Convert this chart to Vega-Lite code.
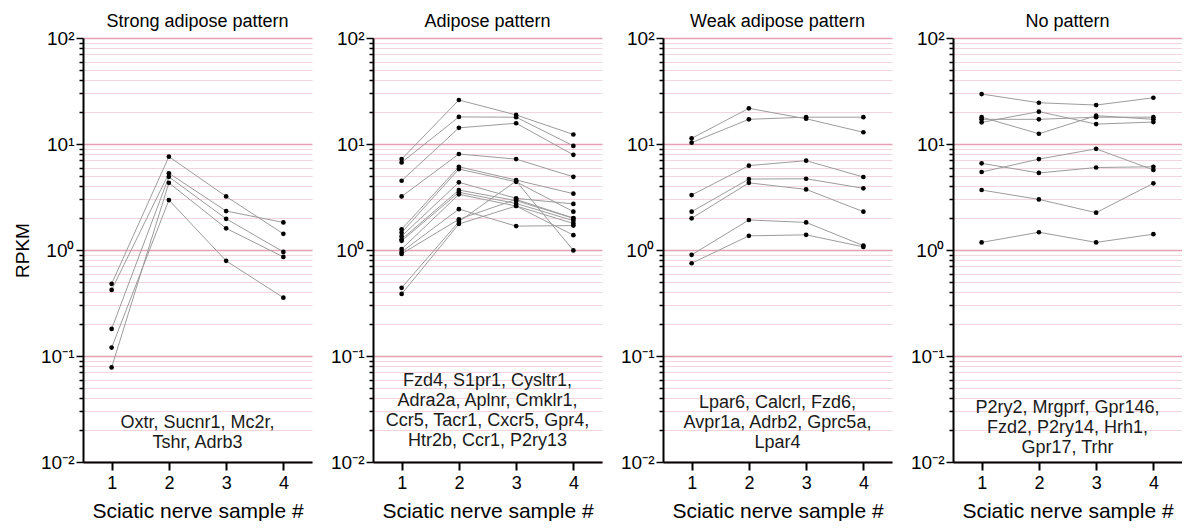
{
  "$schema": "https://vega.github.io/schema/vega-lite/v6.json",
  "background": "white",
  "padding": {"left": 13, "top": 13, "right": 0, "bottom": 0},
  "bounds": "flush",
  "spacing": 61,
  "config": {
    "font": "Liberation Sans",
    "view": {"stroke": null},
    "title": {"fontSize": 18, "fontWeight": "normal", "color": "black", "offset": -2, "font": "Liberation Sans"},
    "axis": {"labelFont": "Liberation Sans", "titleFont": "Liberation Sans", "labelColor": "black", "titleColor": "black"},
    "axisX": {"grid": false, "domainColor": "black", "domainWidth": 2, "tickColor": "black", "tickWidth": 2, "tickSize": 8, "labelFontSize": 18, "labelPadding": 4, "titleFontSize": 21, "titleFontWeight": "normal", "titlePadding": 8},
    "axisY": {"grid": true, "tickWidth": 1.5, "tickColor": "black", "domainColor": "black", "domainWidth": 2,
      "labelExpr": "datum.value == 100 ? '10²' : datum.value == 10 ? '10¹' : datum.value == 1 ? '10⁰' : datum.value == 0.1 ? '10⁻¹' : datum.value == 0.01 ? '10⁻²' : ''",
      "labelFontSize": 19, "labelPadding": 2, "labelOverlap": false,
      "titleFontSize": 19, "titleFontWeight": "normal", "titlePadding": 8}
  },
  "datasets": {
    "points": [
      {"panel": "strong", "series": "s1", "sample": 1, "rpkm": 0.48},
      {"panel": "strong", "series": "s1", "sample": 2, "rpkm": 7.6},
      {"panel": "strong", "series": "s1", "sample": 3, "rpkm": 3.2},
      {"panel": "strong", "series": "s1", "sample": 4, "rpkm": 1.42},
      {"panel": "strong", "series": "s2", "sample": 1, "rpkm": 0.42},
      {"panel": "strong", "series": "s2", "sample": 2, "rpkm": 5.3},
      {"panel": "strong", "series": "s2", "sample": 3, "rpkm": 2.33},
      {"panel": "strong", "series": "s2", "sample": 4, "rpkm": 1.82},
      {"panel": "strong", "series": "s3", "sample": 1, "rpkm": 0.18},
      {"panel": "strong", "series": "s3", "sample": 2, "rpkm": 4.9},
      {"panel": "strong", "series": "s3", "sample": 3, "rpkm": 1.97},
      {"panel": "strong", "series": "s3", "sample": 4, "rpkm": 0.96},
      {"panel": "strong", "series": "s4", "sample": 1, "rpkm": 0.078},
      {"panel": "strong", "series": "s4", "sample": 2, "rpkm": 4.3},
      {"panel": "strong", "series": "s4", "sample": 3, "rpkm": 1.6},
      {"panel": "strong", "series": "s4", "sample": 4, "rpkm": 0.86},
      {"panel": "strong", "series": "s5", "sample": 1, "rpkm": 0.12},
      {"panel": "strong", "series": "s5", "sample": 2, "rpkm": 2.96},
      {"panel": "strong", "series": "s5", "sample": 3, "rpkm": 0.79},
      {"panel": "strong", "series": "s5", "sample": 4, "rpkm": 0.355},

      {"panel": "adipose", "series": "a1", "sample": 1, "rpkm": 7.2},
      {"panel": "adipose", "series": "a1", "sample": 2, "rpkm": 26},
      {"panel": "adipose", "series": "a1", "sample": 3, "rpkm": 18.8},
      {"panel": "adipose", "series": "a1", "sample": 4, "rpkm": 12.3},
      {"panel": "adipose", "series": "a2", "sample": 1, "rpkm": 6.7},
      {"panel": "adipose", "series": "a2", "sample": 2, "rpkm": 18},
      {"panel": "adipose", "series": "a2", "sample": 3, "rpkm": 17.9},
      {"panel": "adipose", "series": "a2", "sample": 4, "rpkm": 9.6},
      {"panel": "adipose", "series": "a3", "sample": 1, "rpkm": 4.5},
      {"panel": "adipose", "series": "a3", "sample": 2, "rpkm": 14.2},
      {"panel": "adipose", "series": "a3", "sample": 3, "rpkm": 15.7},
      {"panel": "adipose", "series": "a3", "sample": 4, "rpkm": 7.9},
      {"panel": "adipose", "series": "a4", "sample": 1, "rpkm": 3.2},
      {"panel": "adipose", "series": "a4", "sample": 2, "rpkm": 8.05},
      {"panel": "adipose", "series": "a4", "sample": 3, "rpkm": 7.2},
      {"panel": "adipose", "series": "a4", "sample": 4, "rpkm": 4.9},
      {"panel": "adipose", "series": "a5", "sample": 1, "rpkm": 1.57},
      {"panel": "adipose", "series": "a5", "sample": 2, "rpkm": 6.1},
      {"panel": "adipose", "series": "a5", "sample": 3, "rpkm": 4.57},
      {"panel": "adipose", "series": "a5", "sample": 4, "rpkm": 3.4},
      {"panel": "adipose", "series": "a6", "sample": 1, "rpkm": 1.46},
      {"panel": "adipose", "series": "a6", "sample": 2, "rpkm": 5.8},
      {"panel": "adipose", "series": "a6", "sample": 3, "rpkm": 4.4},
      {"panel": "adipose", "series": "a6", "sample": 4, "rpkm": 2.3},
      {"panel": "adipose", "series": "a7", "sample": 1, "rpkm": 1.35},
      {"panel": "adipose", "series": "a7", "sample": 2, "rpkm": 4.35},
      {"panel": "adipose", "series": "a7", "sample": 3, "rpkm": 3.07},
      {"panel": "adipose", "series": "a7", "sample": 4, "rpkm": 2.72},
      {"panel": "adipose", "series": "a8", "sample": 1, "rpkm": 1.26},
      {"panel": "adipose", "series": "a8", "sample": 2, "rpkm": 3.68},
      {"panel": "adipose", "series": "a8", "sample": 3, "rpkm": 2.92},
      {"panel": "adipose", "series": "a8", "sample": 4, "rpkm": 1.99},
      {"panel": "adipose", "series": "a9", "sample": 1, "rpkm": 1.22},
      {"panel": "adipose", "series": "a9", "sample": 2, "rpkm": 3.5},
      {"panel": "adipose", "series": "a9", "sample": 3, "rpkm": 2.75},
      {"panel": "adipose", "series": "a9", "sample": 4, "rpkm": 1.89},
      {"panel": "adipose", "series": "a10", "sample": 1, "rpkm": 1.02},
      {"panel": "adipose", "series": "a10", "sample": 2, "rpkm": 3.35},
      {"panel": "adipose", "series": "a10", "sample": 3, "rpkm": 2.6},
      {"panel": "adipose", "series": "a10", "sample": 4, "rpkm": 1.78},
      {"panel": "adipose", "series": "a11", "sample": 1, "rpkm": 0.96},
      {"panel": "adipose", "series": "a11", "sample": 2, "rpkm": 2.43},
      {"panel": "adipose", "series": "a11", "sample": 3, "rpkm": 1.68},
      {"panel": "adipose", "series": "a11", "sample": 4, "rpkm": 1.7},
      {"panel": "adipose", "series": "a12", "sample": 1, "rpkm": 0.44},
      {"panel": "adipose", "series": "a12", "sample": 2, "rpkm": 1.85},
      {"panel": "adipose", "series": "a12", "sample": 3, "rpkm": 4.47},
      {"panel": "adipose", "series": "a12", "sample": 4, "rpkm": 0.99},
      {"panel": "adipose", "series": "a13", "sample": 1, "rpkm": 0.385},
      {"panel": "adipose", "series": "a13", "sample": 2, "rpkm": 1.76},
      {"panel": "adipose", "series": "a13", "sample": 3, "rpkm": 2.6},
      {"panel": "adipose", "series": "a13", "sample": 4, "rpkm": 1.38},
      {"panel": "adipose", "series": "a14", "sample": 1, "rpkm": 0.92},
      {"panel": "adipose", "series": "a14", "sample": 2, "rpkm": 1.95},
      {"panel": "adipose", "series": "a14", "sample": 3, "rpkm": 3.0},
      {"panel": "adipose", "series": "a14", "sample": 4, "rpkm": 2.0},

      {"panel": "weak", "series": "w1", "sample": 1, "rpkm": 11.3},
      {"panel": "weak", "series": "w1", "sample": 2, "rpkm": 21.7},
      {"panel": "weak", "series": "w1", "sample": 3, "rpkm": 17.3},
      {"panel": "weak", "series": "w1", "sample": 4, "rpkm": 12.9},
      {"panel": "weak", "series": "w2", "sample": 1, "rpkm": 10.3},
      {"panel": "weak", "series": "w2", "sample": 2, "rpkm": 17.1},
      {"panel": "weak", "series": "w2", "sample": 3, "rpkm": 17.9},
      {"panel": "weak", "series": "w2", "sample": 4, "rpkm": 17.9},
      {"panel": "weak", "series": "w3", "sample": 1, "rpkm": 3.3},
      {"panel": "weak", "series": "w3", "sample": 2, "rpkm": 6.25},
      {"panel": "weak", "series": "w3", "sample": 3, "rpkm": 6.96},
      {"panel": "weak", "series": "w3", "sample": 4, "rpkm": 4.88},
      {"panel": "weak", "series": "w4", "sample": 1, "rpkm": 2.3},
      {"panel": "weak", "series": "w4", "sample": 2, "rpkm": 4.67},
      {"panel": "weak", "series": "w4", "sample": 3, "rpkm": 4.7},
      {"panel": "weak", "series": "w4", "sample": 4, "rpkm": 3.82},
      {"panel": "weak", "series": "w5", "sample": 1, "rpkm": 1.99},
      {"panel": "weak", "series": "w5", "sample": 2, "rpkm": 4.3},
      {"panel": "weak", "series": "w5", "sample": 3, "rpkm": 3.73},
      {"panel": "weak", "series": "w5", "sample": 4, "rpkm": 2.3},
      {"panel": "weak", "series": "w6", "sample": 1, "rpkm": 0.9},
      {"panel": "weak", "series": "w6", "sample": 2, "rpkm": 1.92},
      {"panel": "weak", "series": "w6", "sample": 3, "rpkm": 1.82},
      {"panel": "weak", "series": "w6", "sample": 4, "rpkm": 1.1},
      {"panel": "weak", "series": "w7", "sample": 1, "rpkm": 0.75},
      {"panel": "weak", "series": "w7", "sample": 2, "rpkm": 1.36},
      {"panel": "weak", "series": "w7", "sample": 3, "rpkm": 1.39},
      {"panel": "weak", "series": "w7", "sample": 4, "rpkm": 1.07},

      {"panel": "none", "series": "n1", "sample": 1, "rpkm": 29.6},
      {"panel": "none", "series": "n1", "sample": 2, "rpkm": 24.5},
      {"panel": "none", "series": "n1", "sample": 3, "rpkm": 23.3},
      {"panel": "none", "series": "n1", "sample": 4, "rpkm": 27.3},
      {"panel": "none", "series": "n2", "sample": 1, "rpkm": 17.9},
      {"panel": "none", "series": "n2", "sample": 2, "rpkm": 12.5},
      {"panel": "none", "series": "n2", "sample": 3, "rpkm": 18.5},
      {"panel": "none", "series": "n2", "sample": 4, "rpkm": 17.1},
      {"panel": "none", "series": "n3", "sample": 1, "rpkm": 16.0},
      {"panel": "none", "series": "n3", "sample": 2, "rpkm": 20.2},
      {"panel": "none", "series": "n3", "sample": 3, "rpkm": 15.4},
      {"panel": "none", "series": "n3", "sample": 4, "rpkm": 16.1},
      {"panel": "none", "series": "n4", "sample": 1, "rpkm": 17.1},
      {"panel": "none", "series": "n4", "sample": 2, "rpkm": 17.1},
      {"panel": "none", "series": "n4", "sample": 3, "rpkm": 17.9},
      {"panel": "none", "series": "n4", "sample": 4, "rpkm": 17.9},
      {"panel": "none", "series": "n5", "sample": 1, "rpkm": 6.57},
      {"panel": "none", "series": "n5", "sample": 2, "rpkm": 5.33},
      {"panel": "none", "series": "n5", "sample": 3, "rpkm": 6.0},
      {"panel": "none", "series": "n5", "sample": 4, "rpkm": 6.1},
      {"panel": "none", "series": "n6", "sample": 1, "rpkm": 5.44},
      {"panel": "none", "series": "n6", "sample": 2, "rpkm": 7.2},
      {"panel": "none", "series": "n6", "sample": 3, "rpkm": 9.0},
      {"panel": "none", "series": "n6", "sample": 4, "rpkm": 5.7},
      {"panel": "none", "series": "n7", "sample": 1, "rpkm": 3.68},
      {"panel": "none", "series": "n7", "sample": 2, "rpkm": 3.0},
      {"panel": "none", "series": "n7", "sample": 3, "rpkm": 2.25},
      {"panel": "none", "series": "n7", "sample": 4, "rpkm": 4.26},
      {"panel": "none", "series": "n8", "sample": 1, "rpkm": 1.18},
      {"panel": "none", "series": "n8", "sample": 2, "rpkm": 1.47},
      {"panel": "none", "series": "n8", "sample": 3, "rpkm": 1.18},
      {"panel": "none", "series": "n8", "sample": 4, "rpkm": 1.41}
    ],
    "notes": [
      {"panel": "strong", "text": "Oxtr, Sucnr1, Mc2r,\nTshr, Adrb3"},
      {"panel": "adipose", "text": "Fzd4, S1pr1, Cysltr1,\nAdra2a, Aplnr, Cmklr1,\nCcr5, Tacr1, Cxcr5, Gpr4,\nHtr2b, Ccr1, P2ry13"},
      {"panel": "weak", "text": "Lpar6, Calcrl, Fzd6,\nAvpr1a, Adrb2, Gprc5a,\nLpar4"},
      {"panel": "none", "text": "P2ry2, Mrgprf, Gpr146,\nFzd2, P2ry14, Hrh1,\nGpr17, Trhr"}
    ]
  },
  "hconcat": [
    {
      "width": 229, "height": 424,
      "title": {"text": "Strong adipose pattern"},
      "layer": [
        {
          "data": {"name": "points"},
          "transform": [{"filter": "datum.panel == 'strong'"}],
          "encoding": {
            "x": {"field": "sample", "type": "quantitative", "scale": {"domain": [0.5, 4.5], "nice": false, "zero": false}, "axis": {"values": [1, 2, 3, 4], "title": "Sciatic nerve sample #"}},
            "y": {"field": "rpkm", "type": "quantitative", "scale": {"type": "log", "domain": [0.01, 100], "nice": false},
              "axis": {"title": "RPKM", "values": [0.01,0.02,0.03,0.04,0.05,0.06,0.07,0.08,0.09,0.1,0.2,0.3,0.4,0.5,0.6,0.7,0.8,0.9,1,2,3,4,5,6,7,8,9,10,20,30,40,50,60,70,80,90,100],
                "gridColor": {"condition": {"test": "abs(log(datum.value)/LN10 - round(log(datum.value)/LN10)) < 0.001", "value": "#e3a1b2"}, "value": "#f3d6dd"},
                "gridWidth": {"condition": {"test": "abs(log(datum.value)/LN10 - round(log(datum.value)/LN10)) < 0.001", "value": 1.5}, "value": 1},
                "tickSize": {"condition": {"test": "abs(log(datum.value)/LN10 - round(log(datum.value)/LN10)) < 0.001", "value": 7}, "value": 4}}}
          },
          "layer": [
            {"mark": {"type": "line", "stroke": "#9c9c9c", "strokeWidth": 1}, "encoding": {"detail": {"field": "series"}, "order": {"field": "sample"}}},
            {"mark": {"type": "circle", "color": "black", "size": 22, "opacity": 1}}
          ]
        },
        {
          "data": {"name": "notes"},
          "transform": [{"filter": "datum.panel == 'strong'"}],
          "mark": {"type": "text", "fontSize": 18, "lineBreak": "\n", "baseline": "middle", "lineHeight": 20, "color": "#1a1a1a"},
          "encoding": {
            "x": {"datum": 2.5, "type": "quantitative", "axis": {"values": [1, 2, 3, 4], "title": "Sciatic nerve sample #"}},
            "y": {"datum": 0.0233, "type": "quantitative",
              "axis": {"title": "RPKM", "values": [0.01,0.02,0.03,0.04,0.05,0.06,0.07,0.08,0.09,0.1,0.2,0.3,0.4,0.5,0.6,0.7,0.8,0.9,1,2,3,4,5,6,7,8,9,10,20,30,40,50,60,70,80,90,100],
                "gridColor": {"condition": {"test": "abs(log(datum.value)/LN10 - round(log(datum.value)/LN10)) < 0.001", "value": "#e3a1b2"}, "value": "#f3d6dd"},
                "gridWidth": {"condition": {"test": "abs(log(datum.value)/LN10 - round(log(datum.value)/LN10)) < 0.001", "value": 1.5}, "value": 1},
                "tickSize": {"condition": {"test": "abs(log(datum.value)/LN10 - round(log(datum.value)/LN10)) < 0.001", "value": 7}, "value": 4}}},
            "text": {"field": "text"}
          }
        }
      ]
    },
    {
      "width": 229, "height": 424,
      "title": {"text": "Adipose pattern"},
      "layer": [
        {
          "data": {"name": "points"},
          "transform": [{"filter": "datum.panel == 'adipose'"}],
          "encoding": {
            "x": {"field": "sample", "type": "quantitative", "scale": {"domain": [0.5, 4.5], "nice": false, "zero": false}, "axis": {"values": [1, 2, 3, 4], "title": "Sciatic nerve sample #"}},
            "y": {"field": "rpkm", "type": "quantitative", "scale": {"type": "log", "domain": [0.01, 100], "nice": false},
              "axis": {"title": null, "values": [0.01,0.02,0.03,0.04,0.05,0.06,0.07,0.08,0.09,0.1,0.2,0.3,0.4,0.5,0.6,0.7,0.8,0.9,1,2,3,4,5,6,7,8,9,10,20,30,40,50,60,70,80,90,100],
                "gridColor": {"condition": {"test": "abs(log(datum.value)/LN10 - round(log(datum.value)/LN10)) < 0.001", "value": "#e3a1b2"}, "value": "#f3d6dd"},
                "gridWidth": {"condition": {"test": "abs(log(datum.value)/LN10 - round(log(datum.value)/LN10)) < 0.001", "value": 1.5}, "value": 1},
                "tickSize": {"condition": {"test": "abs(log(datum.value)/LN10 - round(log(datum.value)/LN10)) < 0.001", "value": 7}, "value": 4}}}
          },
          "layer": [
            {"mark": {"type": "line", "stroke": "#9c9c9c", "strokeWidth": 1}, "encoding": {"detail": {"field": "series"}, "order": {"field": "sample"}}},
            {"mark": {"type": "circle", "color": "black", "size": 22, "opacity": 1}}
          ]
        },
        {
          "data": {"name": "notes"},
          "transform": [{"filter": "datum.panel == 'adipose'"}],
          "mark": {"type": "text", "fontSize": 18, "lineBreak": "\n", "baseline": "middle", "lineHeight": 20, "color": "#1a1a1a"},
          "encoding": {
            "x": {"datum": 2.5, "type": "quantitative", "axis": {"values": [1, 2, 3, 4], "title": "Sciatic nerve sample #"}},
            "y": {"datum": 0.0585, "type": "quantitative",
              "axis": {"title": null, "values": [0.01,0.02,0.03,0.04,0.05,0.06,0.07,0.08,0.09,0.1,0.2,0.3,0.4,0.5,0.6,0.7,0.8,0.9,1,2,3,4,5,6,7,8,9,10,20,30,40,50,60,70,80,90,100],
                "gridColor": {"condition": {"test": "abs(log(datum.value)/LN10 - round(log(datum.value)/LN10)) < 0.001", "value": "#e3a1b2"}, "value": "#f3d6dd"},
                "gridWidth": {"condition": {"test": "abs(log(datum.value)/LN10 - round(log(datum.value)/LN10)) < 0.001", "value": 1.5}, "value": 1},
                "tickSize": {"condition": {"test": "abs(log(datum.value)/LN10 - round(log(datum.value)/LN10)) < 0.001", "value": 7}, "value": 4}}},
            "text": {"field": "text"}
          }
        }
      ]
    },
    {
      "width": 229, "height": 424,
      "title": {"text": "Weak adipose pattern"},
      "layer": [
        {
          "data": {"name": "points"},
          "transform": [{"filter": "datum.panel == 'weak'"}],
          "encoding": {
            "x": {"field": "sample", "type": "quantitative", "scale": {"domain": [0.5, 4.5], "nice": false, "zero": false}, "axis": {"values": [1, 2, 3, 4], "title": "Sciatic nerve sample #"}},
            "y": {"field": "rpkm", "type": "quantitative", "scale": {"type": "log", "domain": [0.01, 100], "nice": false},
              "axis": {"title": null, "values": [0.01,0.02,0.03,0.04,0.05,0.06,0.07,0.08,0.09,0.1,0.2,0.3,0.4,0.5,0.6,0.7,0.8,0.9,1,2,3,4,5,6,7,8,9,10,20,30,40,50,60,70,80,90,100],
                "gridColor": {"condition": {"test": "abs(log(datum.value)/LN10 - round(log(datum.value)/LN10)) < 0.001", "value": "#e3a1b2"}, "value": "#f3d6dd"},
                "gridWidth": {"condition": {"test": "abs(log(datum.value)/LN10 - round(log(datum.value)/LN10)) < 0.001", "value": 1.5}, "value": 1},
                "tickSize": {"condition": {"test": "abs(log(datum.value)/LN10 - round(log(datum.value)/LN10)) < 0.001", "value": 7}, "value": 4}}}
          },
          "layer": [
            {"mark": {"type": "line", "stroke": "#9c9c9c", "strokeWidth": 1}, "encoding": {"detail": {"field": "series"}, "order": {"field": "sample"}}},
            {"mark": {"type": "circle", "color": "black", "size": 22, "opacity": 1}}
          ]
        },
        {
          "data": {"name": "notes"},
          "transform": [{"filter": "datum.panel == 'weak'"}],
          "mark": {"type": "text", "fontSize": 18, "lineBreak": "\n", "baseline": "middle", "lineHeight": 20, "color": "#1a1a1a"},
          "encoding": {
            "x": {"datum": 2.5, "type": "quantitative", "axis": {"values": [1, 2, 3, 4], "title": "Sciatic nerve sample #"}},
            "y": {"datum": 0.036, "type": "quantitative",
              "axis": {"title": null, "values": [0.01,0.02,0.03,0.04,0.05,0.06,0.07,0.08,0.09,0.1,0.2,0.3,0.4,0.5,0.6,0.7,0.8,0.9,1,2,3,4,5,6,7,8,9,10,20,30,40,50,60,70,80,90,100],
                "gridColor": {"condition": {"test": "abs(log(datum.value)/LN10 - round(log(datum.value)/LN10)) < 0.001", "value": "#e3a1b2"}, "value": "#f3d6dd"},
                "gridWidth": {"condition": {"test": "abs(log(datum.value)/LN10 - round(log(datum.value)/LN10)) < 0.001", "value": 1.5}, "value": 1},
                "tickSize": {"condition": {"test": "abs(log(datum.value)/LN10 - round(log(datum.value)/LN10)) < 0.001", "value": 7}, "value": 4}}},
            "text": {"field": "text"}
          }
        }
      ]
    },
    {
      "width": 229, "height": 424,
      "title": {"text": "No pattern"},
      "layer": [
        {
          "data": {"name": "points"},
          "transform": [{"filter": "datum.panel == 'none'"}],
          "encoding": {
            "x": {"field": "sample", "type": "quantitative", "scale": {"domain": [0.5, 4.5], "nice": false, "zero": false}, "axis": {"values": [1, 2, 3, 4], "title": "Sciatic nerve sample #"}},
            "y": {"field": "rpkm", "type": "quantitative", "scale": {"type": "log", "domain": [0.01, 100], "nice": false},
              "axis": {"title": null, "values": [0.01,0.02,0.03,0.04,0.05,0.06,0.07,0.08,0.09,0.1,0.2,0.3,0.4,0.5,0.6,0.7,0.8,0.9,1,2,3,4,5,6,7,8,9,10,20,30,40,50,60,70,80,90,100],
                "gridColor": {"condition": {"test": "abs(log(datum.value)/LN10 - round(log(datum.value)/LN10)) < 0.001", "value": "#e3a1b2"}, "value": "#f3d6dd"},
                "gridWidth": {"condition": {"test": "abs(log(datum.value)/LN10 - round(log(datum.value)/LN10)) < 0.001", "value": 1.5}, "value": 1},
                "tickSize": {"condition": {"test": "abs(log(datum.value)/LN10 - round(log(datum.value)/LN10)) < 0.001", "value": 7}, "value": 4}}}
          },
          "layer": [
            {"mark": {"type": "line", "stroke": "#9c9c9c", "strokeWidth": 1}, "encoding": {"detail": {"field": "series"}, "order": {"field": "sample"}}},
            {"mark": {"type": "circle", "color": "black", "size": 22, "opacity": 1}}
          ]
        },
        {
          "data": {"name": "notes"},
          "transform": [{"filter": "datum.panel == 'none'"}],
          "mark": {"type": "text", "fontSize": 18, "lineBreak": "\n", "baseline": "middle", "lineHeight": 20, "color": "#1a1a1a"},
          "encoding": {
            "x": {"datum": 2.5, "type": "quantitative", "axis": {"values": [1, 2, 3, 4], "title": "Sciatic nerve sample #"}},
            "y": {"datum": 0.0325, "type": "quantitative",
              "axis": {"title": null, "values": [0.01,0.02,0.03,0.04,0.05,0.06,0.07,0.08,0.09,0.1,0.2,0.3,0.4,0.5,0.6,0.7,0.8,0.9,1,2,3,4,5,6,7,8,9,10,20,30,40,50,60,70,80,90,100],
                "gridColor": {"condition": {"test": "abs(log(datum.value)/LN10 - round(log(datum.value)/LN10)) < 0.001", "value": "#e3a1b2"}, "value": "#f3d6dd"},
                "gridWidth": {"condition": {"test": "abs(log(datum.value)/LN10 - round(log(datum.value)/LN10)) < 0.001", "value": 1.5}, "value": 1},
                "tickSize": {"condition": {"test": "abs(log(datum.value)/LN10 - round(log(datum.value)/LN10)) < 0.001", "value": 7}, "value": 4}}},
            "text": {"field": "text"}
          }
        }
      ]
    }
  ]
}
